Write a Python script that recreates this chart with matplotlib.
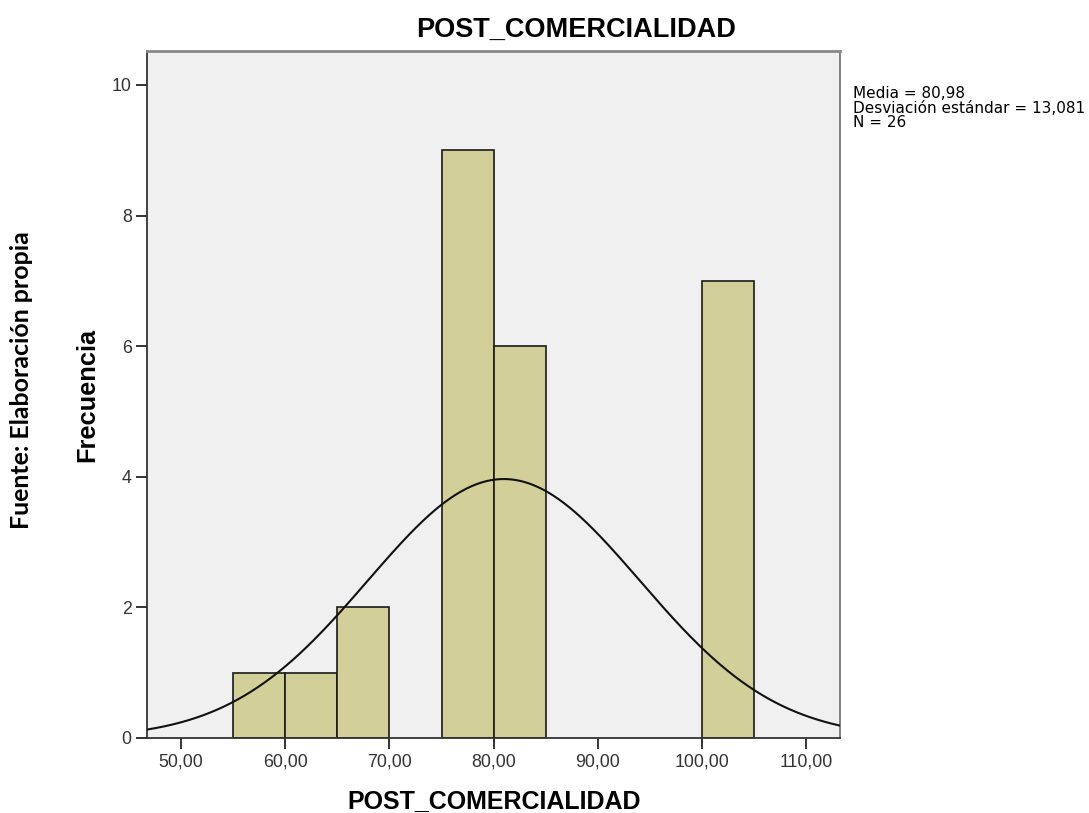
import numpy as np
import matplotlib
matplotlib.use("Agg")
import matplotlib.pyplot as plt

# histogram bins (left edge) and counts
bin_left = [55, 60, 65, 75, 80, 100]
counts = [1, 1, 2, 9, 6, 7]
bin_width = 5
media = 80.98
desv = 13.081
n = 26
xticks = [50, 60, 70, 80, 90, 100, 110]
yticks = [0, 2, 4, 6, 8, 10]

plt.rcParams['font.family'] = ['Liberation Sans', 'DejaVu Sans']

fig = plt.figure(figsize=(10.89, 8.13), dpi=100)
ax = fig.add_axes([0.135, 0.0923, 0.6365, 0.845])
ax.set_facecolor('#f0f0f0')

ax.bar(bin_left, counts, width=bin_width, align='edge', color='#d3cf99',
       edgecolor='#1a1a1a', linewidth=1.2, zorder=2)

# normal curve scaled to counts
xs = np.linspace(46.73, 113.27, 400)
ys = n * bin_width / (desv * np.sqrt(2 * np.pi)) * np.exp(-0.5 * ((xs - media) / desv) ** 2)
ax.plot(xs, ys, color='#111111', linewidth=1.5, zorder=3)

ax.set_xlim(46.73, 113.27)
ax.set_ylim(0, 10.52)
ax.set_xticks(xticks)
ax.set_xticklabels(['{:.2f}'.format(v).replace('.', ',') for v in xticks])
ax.set_yticks(yticks)
ax.tick_params(axis='both', direction='out', length=8, width=1.3, colors='#222222',
               labelsize=12.8, labelcolor='#333333', pad=3)
for s in ax.spines.values():
    s.set_color('#333333')
    s.set_linewidth(1.3)
ax.spines['top'].set_color('#888888')
ax.spines['top'].set_linewidth(2)
ax.spines['right'].set_color('#777777')

fig.text(0.529, 0.963, 'POST_COMERCIALIDAD', ha='center', va='center',
         fontsize=19.5, fontweight='bold')
fig.text(0.4536, 0.0145, 'POST_COMERCIALIDAD', ha='center', va='center',
         fontsize=18, fontweight='bold')
fig.text(0.080, 0.514, 'Frecuencia', rotation=90, ha='center', va='center',
         fontsize=18.3, fontweight='bold')
fig.text(0.020, 0.533, 'Fuente: Elaboración propia', rotation=90, ha='center',
         va='center', fontsize=17.9, fontweight='bold', family=['Lato', 'DejaVu Sans'])
fig.text(0.783, 0.867,
         'Media = {}\nDesviación estándar = {}\nN = {}'.format(
             str(media).replace('.', ','), str(desv).replace('.', ','), n),
         ha='left', va='center', fontsize=11, linespacing=0.98,
         family=['DejaVu Sans'])

fig.savefig('out.png', dpi=100)
